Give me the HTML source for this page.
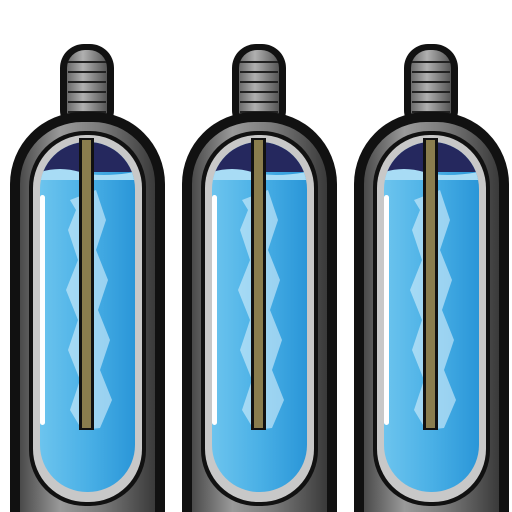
<!DOCTYPE html>
<html><head><meta charset="utf-8"><style>html,body{margin:0;padding:0;background:#fff;width:512px;height:512px;overflow:hidden}</style></head>
<body>
<svg width="512" height="512" viewBox="0 0 512 512" xmlns="http://www.w3.org/2000/svg" style="display:block">
<defs>
<linearGradient id="metal" x1="0" x2="1"><stop offset="0" stop-color="#4a4a4a"/><stop offset="0.3" stop-color="#9a9a9a"/><stop offset="0.6" stop-color="#7a7a7a"/><stop offset="1" stop-color="#3a3a3a"/></linearGradient>
<linearGradient id="liquid" x1="0" x2="1"><stop offset="0" stop-color="#6cc4ee"/><stop offset="0.5" stop-color="#4ab0e6"/><stop offset="1" stop-color="#2a96d8"/></linearGradient>
<linearGradient id="neckg" x1="0" x2="1"><stop offset="0" stop-color="#6a6a6a"/><stop offset="0.4" stop-color="#b0b0b0"/><stop offset="1" stop-color="#555"/></linearGradient>
<clipPath id="liqclip"><rect x="40" y="142" width="95" height="350" rx="47"/></clipPath>
<g id="bottle">
  <rect x="60" y="44" width="54" height="90" rx="24" fill="#111"/>
  <rect x="67" y="50" width="40" height="80" rx="18" fill="url(#neckg)"/>
  <g stroke="#222" stroke-width="2">
    <line x1="68" y1="62" x2="106" y2="62"/><line x1="68" y1="72" x2="106" y2="72"/>
    <line x1="68" y1="82" x2="106" y2="82"/><line x1="68" y1="92" x2="106" y2="92"/>
    <line x1="68" y1="102" x2="106" y2="102"/><line x1="68" y1="112" x2="106" y2="112"/>
  </g>
  <path d="M10 512 L10 184 A72 72 0 0 1 82 112 L93 112 A72 72 0 0 1 165 184 L165 512 Z" fill="#111"/>
  <path d="M20 512 L20 184 A62 62 0 0 1 82 122 L93 122 A62 62 0 0 1 155 184 L155 512 Z" fill="url(#metal)"/>
  <rect x="29" y="131" width="117" height="375" rx="56" fill="#111"/>
  <rect x="33" y="135" width="109" height="367" rx="53" fill="#c8c8c8"/>
  <g clip-path="url(#liqclip)">
    <rect x="40" y="142" width="95" height="350" fill="url(#liquid)"/>
    <rect x="40" y="142" width="95" height="30" fill="#25285e"/>
    <path d="M40 172 Q60 166 80 172 T135 172 L135 180 L40 180Z" fill="#a8dcf5"/>
    <path d="M70 200 L76 210 L68 230 L78 260 L66 290 L78 320 L68 350 L80 380 L70 410 L82 430 L100 428 L112 400 L100 370 L110 340 L98 310 L108 280 L96 250 L106 220 L96 190Z" fill="#d8f0fb" opacity="0.6"/>
  </g>
  <rect x="40" y="195" width="5" height="230" rx="2.5" fill="#fff"/>
  <rect x="79" y="138" width="15" height="292" fill="#111"/>
  <rect x="82" y="140" width="9" height="288" fill="#8a7d4e"/>
</g>
</defs>
<use href="#bottle" x="0"/>
<use href="#bottle" x="172"/>
<use href="#bottle" x="344"/>
</svg>
</body></html>
